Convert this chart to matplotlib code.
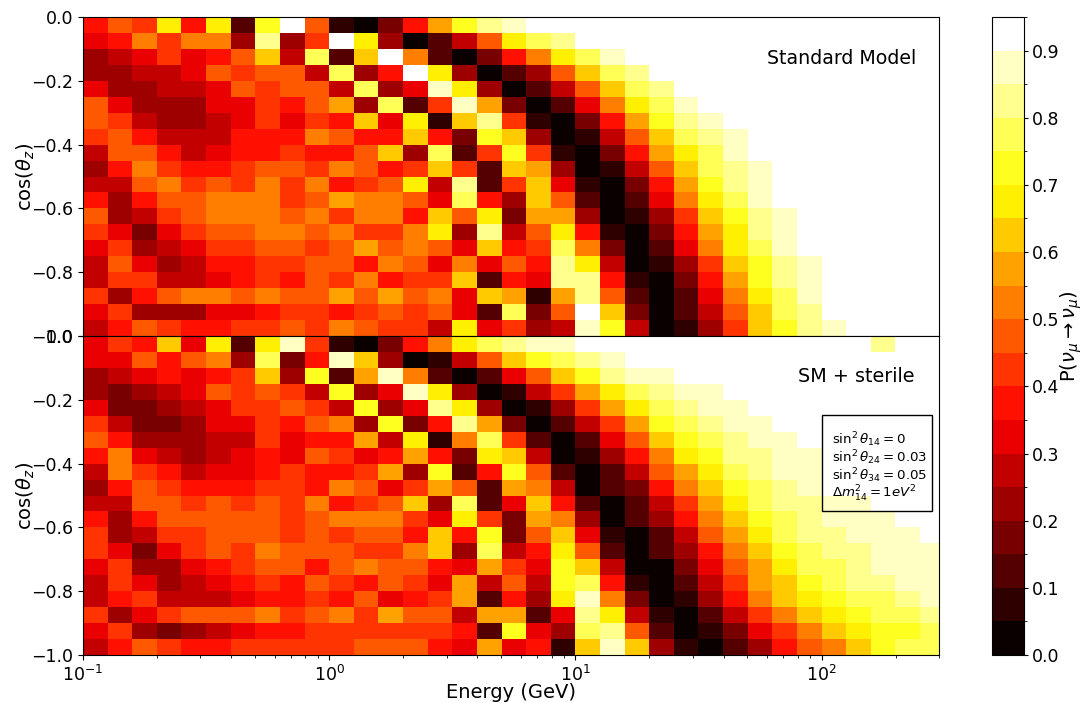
import numpy as np
import matplotlib
matplotlib.use("Agg")
import matplotlib.pyplot as plt
from matplotlib.colors import BoundaryNorm
from matplotlib.patches import Rectangle
from matplotlib.ticker import FixedLocator, FixedFormatter

W = 18  # white band, P > 0.9

# Colour band (0 = 0.00-0.05, 1 = 0.05-0.10, ...) read per cell; row 0 is cos(theta)=0
sm_bands = [
 [7,9,8,13,7,13,2,14,18,9,1,0,3,7,11,14,16,17,W,W,W,W,W,W,W,W,W,W,W,W,W,W,W,W,W],
 [6,7,10,8,10,10,4,16,4,8,18,13,4,0,2,5,9,13,15,16,W,W,W,W,W,W,W,W,W,W,W,W,W,W,W],
 [4,5,6,8,6,7,9,12,5,15,2,12,18,10,2,0,3,7,10,13,15,17,W,W,W,W,W,W,W,W,W,W,W,W,W],
 [4,4,5,5,6,9,8,9,9,5,15,4,7,18,13,4,0,2,4,9,12,15,16,W,W,W,W,W,W,W,W,W,W,W,W],
 [6,4,4,5,5,6,9,8,9,9,5,15,4,6,17,13,4,0,2,5,9,12,15,16,W,W,W,W,W,W,W,W,W,W,W],
 [9,6,4,4,4,6,6,8,7,9,11,4,15,2,8,17,11,3,0,2,6,10,13,15,17,W,W,W,W,W,W,W,W,W,W],
 [9,8,5,4,4,5,6,8,6,8,7,12,6,13,1,12,16,8,1,0,3,7,11,14,16,17,W,W,W,W,W,W,W,W,W],
 [8,9,7,5,5,5,7,7,7,10,9,7,7,12,7,3,14,12,4,0,1,5,9,12,15,16,17,W,W,W,W,W,W,W,W],
 [5,9,9,7,5,6,7,7,8,7,7,9,12,4,15,2,8,14,8,1,0,3,7,11,13,15,17,W,W,W,W,W,W,W,W],
 [4,7,10,8,7,7,8,9,9,8,10,9,7,8,12,8,2,12,11,4,0,1,5,9,12,15,16,17,W,W,W,W,W,W,W],
 [5,5,9,10,8,9,8,10,8,10,7,8,9,13,5,16,2,8,12,6,1,0,3,7,11,14,16,17,W,W,W,W,W,W,W],
 [7,4,7,9,9,10,10,10,8,9,11,10,10,9,6,15,7,4,12,9,2,0,2,6,10,13,15,17,W,W,W,W,W,W,W],
 [9,4,5,8,9,10,10,10,9,10,8,10,10,7,12,9,13,3,11,11,4,0,1,4,8,12,14,16,17,W,W,W,W,W,W],
 [8,6,3,6,8,9,9,10,10,9,10,8,8,10,13,4,16,5,9,13,7,1,0,3,7,11,13,16,17,W,W,W,W,W,W],
 [6,8,4,5,6,8,8,9,9,8,9,11,9,10,9,6,12,7,8,15,10,3,0,2,6,10,13,15,17,W,W,W,W,W,W],
 [5,9,6,4,5,7,7,8,8,9,9,7,10,9,6,10,6,9,7,16,13,5,0,1,4,8,12,14,16,17,W,W,W,W,W],
 [5,8,8,5,5,6,7,8,7,9,8,10,7,8,8,12,2,7,6,16,16,7,1,0,3,7,11,14,16,17,W,W,W,W,W],
 [8,4,7,9,10,10,9,10,9,9,11,9,11,9,10,6,12,11,1,11,16,9,2,0,2,6,10,13,15,17,W,W,W,W,W],
 [6,8,4,4,4,6,6,7,8,8,7,8,9,8,9,6,2,15,3,9,18,12,3,0,2,5,9,12,15,16,W,W,W,W,W],
 [5,7,9,8,7,7,8,8,9,8,10,9,8,8,5,13,6,8,4,5,17,14,5,0,1,4,8,12,14,16,17,W,W,W,W],
]

sterile_bands = [
 [6,8,7,12,6,13,2,13,17,8,1,0,3,7,10,13,15,16,17,17,W,W,W,W,W,W,W,W,W,W,W,W,16,W,W],
 [6,6,9,7,9,10,4,15,3,7,17,12,4,0,1,5,9,12,14,15,16,17,W,W,W,W,W,W,W,W,W,W,W,W,W],
 [4,5,6,7,6,7,8,12,4,14,2,11,17,10,2,0,2,6,9,12,14,16,17,17,W,W,W,W,W,W,W,W,W,W,W],
 [4,3,4,5,6,9,8,9,8,5,14,4,6,17,13,4,0,1,5,8,11,13,15,16,17,17,W,W,W,W,W,W,W,W,W],
 [6,3,3,4,5,6,8,8,9,8,5,14,4,6,16,13,4,0,1,4,8,11,13,15,16,17,17,W,W,W,W,W,W,W,W],
 [8,5,3,3,4,6,6,8,7,9,10,4,14,3,7,16,11,3,0,2,5,8,11,14,15,16,17,17,W,W,W,W,W,W,W],
 [9,7,4,4,4,5,5,8,6,7,7,11,5,13,1,10,15,8,2,0,2,6,9,12,14,15,16,17,17,W,W,W,W,W,W],
 [7,10,6,5,4,5,6,7,6,9,8,6,7,11,7,3,13,12,5,0,1,4,7,10,13,14,16,16,17,17,W,W,W,W,W],
 [5,10,8,7,5,6,6,7,8,7,7,8,11,4,14,2,7,14,9,2,0,2,5,9,11,13,15,16,17,17,W,W,W,W,W],
 [4,7,9,8,7,7,7,8,8,7,10,9,6,8,11,9,2,11,10,5,0,2,3,7,10,12,14,15,16,17,W,W,W,W,W],
 [5,5,9,9,8,9,8,9,8,10,7,8,9,12,4,15,2,6,12,7,2,0,2,5,8,11,13,15,16,16,17,17,W,W,W],
 [7,4,7,9,9,9,9,9,8,9,10,10,10,8,6,13,8,3,11,10,4,0,2,4,7,10,12,14,15,16,17,17,17,W,W],
 [8,4,5,8,8,9,9,9,8,9,8,9,9,7,12,7,14,3,9,12,6,1,0,2,5,9,11,13,15,16,16,17,17,17,W],
 [8,6,3,6,8,9,8,10,9,9,9,8,8,10,12,4,15,5,7,13,9,2,0,2,4,7,10,12,14,15,16,16,17,17,17],
 [6,8,4,4,6,7,8,9,9,7,9,10,9,9,7,6,11,8,6,14,12,5,0,0,3,6,9,11,13,15,15,16,17,17,17],
 [5,8,6,4,5,6,7,8,7,9,8,7,9,8,6,11,5,9,5,14,15,7,1,0,2,5,8,11,12,14,15,16,16,17,17],
 [5,7,8,5,5,5,6,7,7,8,7,9,6,7,8,11,2,7,4,13,17,10,3,0,1,4,7,10,12,13,14,15,15,16,17],
 [8,4,6,8,9,9,9,10,8,9,10,8,11,9,9,5,11,11,2,6,16,13,5,1,0,2,5,8,10,12,13,14,15,15,16],
 [6,8,4,3,4,5,6,7,7,8,8,8,8,8,8,7,2,14,6,4,15,16,9,2,0,1,3,6,8,10,12,13,14,14,15],
 [5,7,9,8,7,7,8,8,8,8,8,9,9,9,7,6,11,6,7,1,12,17,12,4,1,0,2,4,7,9,10,12,14,15,15],
]

band_edges = np.arange(0, 0.951, 0.05)
energy_edges = np.logspace(-1, 2.5, 36)
cosz_edges = np.linspace(0, -1, 21)
y_ticks = [-1.0, -0.8, -0.6, -0.4, -0.2, 0.0]
cb_major = [0.0, 0.1, 0.2, 0.3, 0.4, 0.5, 0.6, 0.7, 0.8, 0.9]
cb_minor = [0.05, 0.15, 0.25, 0.35, 0.45, 0.55, 0.65, 0.75, 0.85, 0.95]
params = "\n".join([
    r"$\sin^2\theta_{14} = 0$",
    r"$\sin^2\theta_{24} = 0.03$",
    r"$\sin^2\theta_{34} = 0.05$",
    r"$\Delta m_{14}^2 = 1 eV^2$",
])

PW, PH = 1082, 703
def rect(l, t, r, b):
    return [l / PW, 1 - b / PH, (r - l) / PW, (b - t) / PH]

fig = plt.figure(figsize=(PW / 100, PH / 100), dpi=100)
ax1 = fig.add_axes(rect(83, 17, 939, 336))
ax2 = fig.add_axes(rect(83, 336, 939, 655))
cax = fig.add_axes(rect(992, 17, 1024, 655))

norm = BoundaryNorm(band_edges, 256)
mesh = None
for ax, bands in ((ax1, sm_bands), (ax2, sterile_bands)):
    P = (np.array(bands) + 0.5) * 0.05
    mesh = ax.pcolormesh(energy_edges, cosz_edges, P, cmap="hot", norm=norm)
    ax.set_xscale("log")
    ax.set_xlim(0.1, 300)
    ax.set_ylim(-1, 0)
    ax.set_yticks(y_ticks)
    ax.tick_params(axis="both", which="major", labelsize=12.5)
    ax.set_ylabel(r"$\cos(\theta_z)$", fontsize=14, labelpad=-4)

ax1.tick_params(axis="x", which="both", bottom=False, labelbottom=False)
ax2.set_xlabel("Energy (GeV)", fontsize=14, labelpad=-1)

fig.text(842 / PW, 1 - 58 / PH, "Standard Model", fontsize=13.7, ha="center", va="center")
fig.text(856 / PW, 1 - 377 / PH, "SM + sterile", fontsize=13.8, ha="center", va="center")
fig.text(832 / PW, 1 - 467 / PH, params, fontsize=9.6, ha="left", va="center", linespacing=0.93)
fig.add_artist(Rectangle((822 / PW, 1 - 511 / PH), 110 / PW, 96 / PH, transform=fig.transFigure,
                         facecolor="none", edgecolor="black", linewidth=1))

cb = fig.colorbar(mesh, cax=cax, spacing="proportional")
cb.ax.yaxis.set_major_locator(FixedLocator(cb_major))
cb.ax.yaxis.set_major_formatter(FixedFormatter([f"{v:.1f}" for v in cb_major]))
cb.ax.yaxis.set_minor_locator(FixedLocator(cb_minor))
cb.ax.tick_params(which="major", labelsize=12.5, length=3, pad=3)
cb.ax.tick_params(which="minor", length=2)
cb.set_label(r"P($\nu_\mu \rightarrow \nu_\mu$)", fontsize=14, labelpad=-1)

fig.savefig("out.png", dpi=100)
